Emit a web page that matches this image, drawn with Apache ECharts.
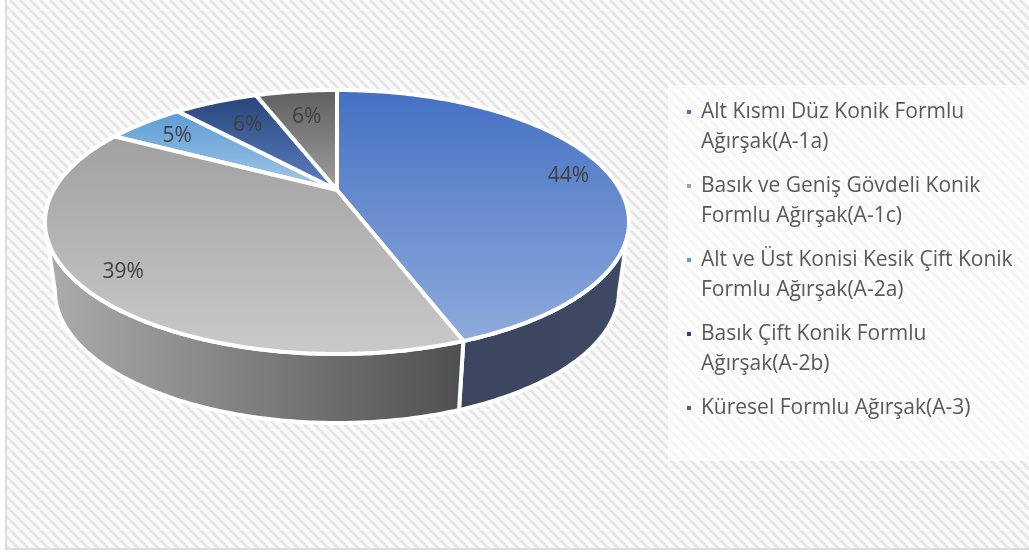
<!DOCTYPE html>
<html><head><meta charset="utf-8">
<style>html,body{margin:0;padding:0;background:#fff}#c{width:1029px;height:554px}</style>
<script src="https://cdn.jsdelivr.net/npm/echarts@6/dist/echarts.min.js"></script>
</head><body><div id="c"></div>
<script>
const categories = [
  'Alt Kısmı Düz Konik Formlu\nAğırşak(A-1a)',
  'Basık ve Geniş Gövdeli Konik\nFormlu Ağırşak(A-1c)',
  'Alt ve Üst Konisi Kesik Çift Konik\nFormlu Ağırşak(A-2a)',
  'Basık Çift Konik Formlu\nAğırşak(A-2b)',
  'Küresel Formlu Ağırşak(A-3)'
];
const values = [44.4, 38.6, 5.45, 5.85, 5.7];
const colors = ['#4472c4', '#a5a5a5', '#5b9bd5', '#264478', '#636363'];

const topGrad = [['#4470c3','#8fabdd'],['#a0a0a0','#cacaca'],['#5b9bd5','#a5c8e8'],['#264478','#5f82c6'],['#5e5e5e','#a0a0a0']];
const wallGrad = [['#3a4560','#3e4963'],['#adadad','#4f4f4f'],['#5b9bd5','#5b9bd5'],['#264478','#264478'],['#636363','#636363']];
const labelRadius = [0.86, 0.86, 0.81, 0.7, 0.7];
const labelDy = [4, 1, 2, 0, 0];
const G = {cx:337, cy:222, rx:292, ry:132, k:-0.242, depth:69, rx2:282, ry2:132};
const total = values.reduce((a,b)=>a+b,0);

function project(u, v){
  const d = 1 + G.k*v, s = Math.sqrt(1-G.k*G.k);
  return {x:u*s/d, y:(v+G.k)/d};
}
function angle(p){ return p/total*2*Math.PI; }
function unit(a,r){ return [r*Math.sin(a), -r*Math.cos(a)]; }

function renderSlice(idx){
  return function(params, api){
    const val = api.value(0);
    let before = 0; for(let i=0;i<idx;i++) before += values[i];
    const a0 = angle(before), a1 = angle(before+val);
    const steps = Math.max(8, Math.round((a1-a0)*80));
    const top = [[G.cx + project(0,0).x*G.rx, G.cy + project(0,0).y*G.ry]];
    const upper = [], lower = [];
    for(let i=0;i<=steps;i++){
      const a = a0+(a1-a0)*i/steps, [u,v]=unit(a,1), p=project(u,v);
      top.push([G.cx+p.x*G.rx, G.cy+p.y*G.ry]);
      if(p.y>=0){
        upper.push([G.cx+p.x*G.rx, G.cy+p.y*G.ry]);
        lower.unshift([G.cx+p.x*G.rx2, G.cy+G.depth+p.y*G.ry2]);
      }
    }
    const children = [];
    if(upper.length>1){
      children.push({type:'polygon', shape:{points:upper.concat(lower)},
        style:{fill:new echarts.graphic.LinearGradient(0,0,1,0,[{offset:0,color:wallGrad[idx][0]},{offset:1,color:wallGrad[idx][1]}]),
               stroke:'#fff', lineWidth:4, lineJoin:'round'}});
    }
    children.push({type:'polygon', shape:{points:top},
      style:{fill:new echarts.graphic.LinearGradient(0,0,0,1,[{offset:0,color:topGrad[idx][0]},{offset:1,color:topGrad[idx][1]}]),
             stroke:'#fff', lineWidth:4, lineJoin:'round'}});
    const [lu,lv]=unit(angle(before+val/2),labelRadius[idx]), lp=project(lu,lv);
    children.push({type:'text', z2:10, style:{text:Math.round(val/total*100)+'%',
      x:G.cx+lp.x*G.rx, y:G.cy+lp.y*G.ry+labelDy[idx], align:'center', verticalAlign:'middle',
      fill:'#404040', font:'21px "Open Sans"'}});
    return {type:'group', children};
  };
}

// Background hatch tile
function hatch(){
  const n=10, c=document.createElement('canvas'); c.width=n;c.height=n;
  const x=c.getContext('2d'); x.fillStyle='#fafafa'; x.fillRect(0,0,n,n);
  x.strokeStyle='#e6e6e6'; x.lineWidth=3;
  for(let i=-n;i<=2*n;i+=n){ x.beginPath(); x.moveTo(i,0); x.lineTo(i+n,n); x.stroke(); }
  return c;
}

const chart = echarts.init(document.getElementById('c'), null, {renderer:'canvas', width:1029, height:554});
const rich = {
  t:{fontFamily:'Open Sans', fontSize:21, color:'#595959', lineHeight:30, padding:[0,0,0,10]},
  t2:{fontFamily:'Open Sans', fontSize:21, color:'#595959', lineHeight:30, padding:[0,0,0,14]}
};
colors.forEach((col,i)=>{ rich['m'+i]={width:4,height:4,backgroundColor:col,lineHeight:30}; });
const nameIdx = n => categories.indexOf(n);

chart.setOption({
  animation:false,
  backgroundColor:{image:hatch(), repeat:'repeat'},
  graphic:[
    {type:'rect', z:-1, silent:true, shape:{x:0,y:0,width:5,height:554}, style:{fill:'#fff'}},
    {type:'rect', z:-1, silent:true, shape:{x:0,y:550,width:1029,height:4}, style:{fill:'#fff'}},
    {type:'rect', z:-1, silent:true, shape:{x:5,y:0,width:2,height:550}, style:{fill:'#dcdcdc'}},
    {type:'rect', z:-1, silent:true, shape:{x:5,y:548,width:1024,height:2}, style:{fill:'#dcdcdc'}}
  ],
  legend:{
    orient:'vertical', left:668, top:85, width:361,
    padding:[12,30,38,14], itemGap:14, itemWidth:0, itemHeight:4, icon:'none',
    backgroundColor:'rgba(255,255,255,0.62)', selectedMode:false,
    data:categories,
    textStyle:{rich:rich, fontFamily:'Open Sans', fontSize:21, color:'#595959', lineHeight:30},
    formatter:function(n){
      const i=nameIdx(n), ls=n.split('\n');
      let s='{m'+i+'| }{t|'+ls[0]+'}';
      if(ls[1]) s+='\n{t2|'+ls[1]+'}';
      return s;
    }
  },
  series:categories.map((name,i)=>({
    type:'custom', name:name, coordinateSystem:'none', silent:true,
    itemStyle:{color:colors[i]}, z:2+(i<2?1:0),
    renderItem:renderSlice(i), data:[[values[i]]]
  }))
});
</script></body></html>
